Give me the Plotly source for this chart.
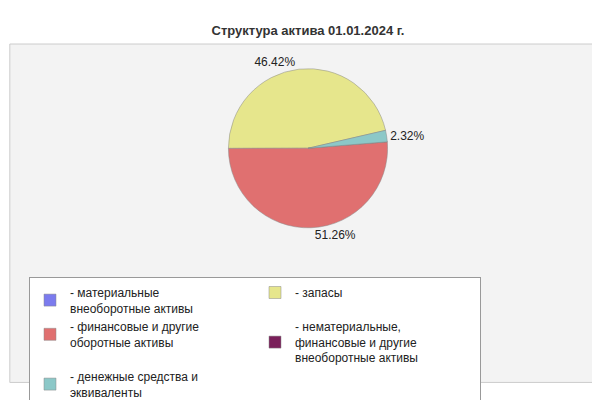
import plotly.graph_objects as go

labels = ["- материальные<br>внеоборотные активы", "- запасы", "- финансовые и другие<br>оборотные активы",
          "- нематериальные,<br>финансовые и другие<br>внеоборотные активы", "- денежные средства и<br>эквиваленты"]
values = [0.0, 46.42, 51.26, 0.0, 2.32]
colors = ["#7b7bee", "#e6e68c", "#e07070", "#7a1f5a", "#8cc8c8"]
texts = [f"{v:.2f}%" if v > 0 else "" for v in values]

fig = go.Figure(go.Pie(
    labels=labels, values=values, sort=False, direction="counterclockwise", rotation=77,
    marker=dict(colors=colors, line=dict(color="#888", width=0.5)),
    text=texts, textinfo="text", textposition="outside",
    textfont=dict(size=12, color="#222"), showlegend=True,
    domain=dict(x=[0.3, 0.7], y=[0.42, 0.84]),
))
fig.update_layout(
    width=600, height=400, paper_bgcolor="white", plot_bgcolor="white",
    margin=dict(l=0, r=0, t=0, b=0),
    font=dict(family="Liberation Sans, Arial", size=12, color="#222"),
    title=dict(text="<b>Структура актива 01.01.2024 г.</b>", x=0.5, y=0.955, xanchor="center",
               font=dict(size=13, color="#333")),
    legend=dict(orientation="h", x=0.035, y=0.29, xanchor="left", yanchor="top",
                entrywidth=180, bgcolor="white", bordercolor="#999", borderwidth=1,
                font=dict(size=12), tracegroupgap=0),
    shapes=[dict(type="rect", xref="paper", yref="paper", x0=0.003, x1=0.997, y0=0.012, y1=0.905,
                 fillcolor="#f3f3f3", line=dict(color="#ccc", width=1), layer="below")],
)
fig.write_html("out.html")
